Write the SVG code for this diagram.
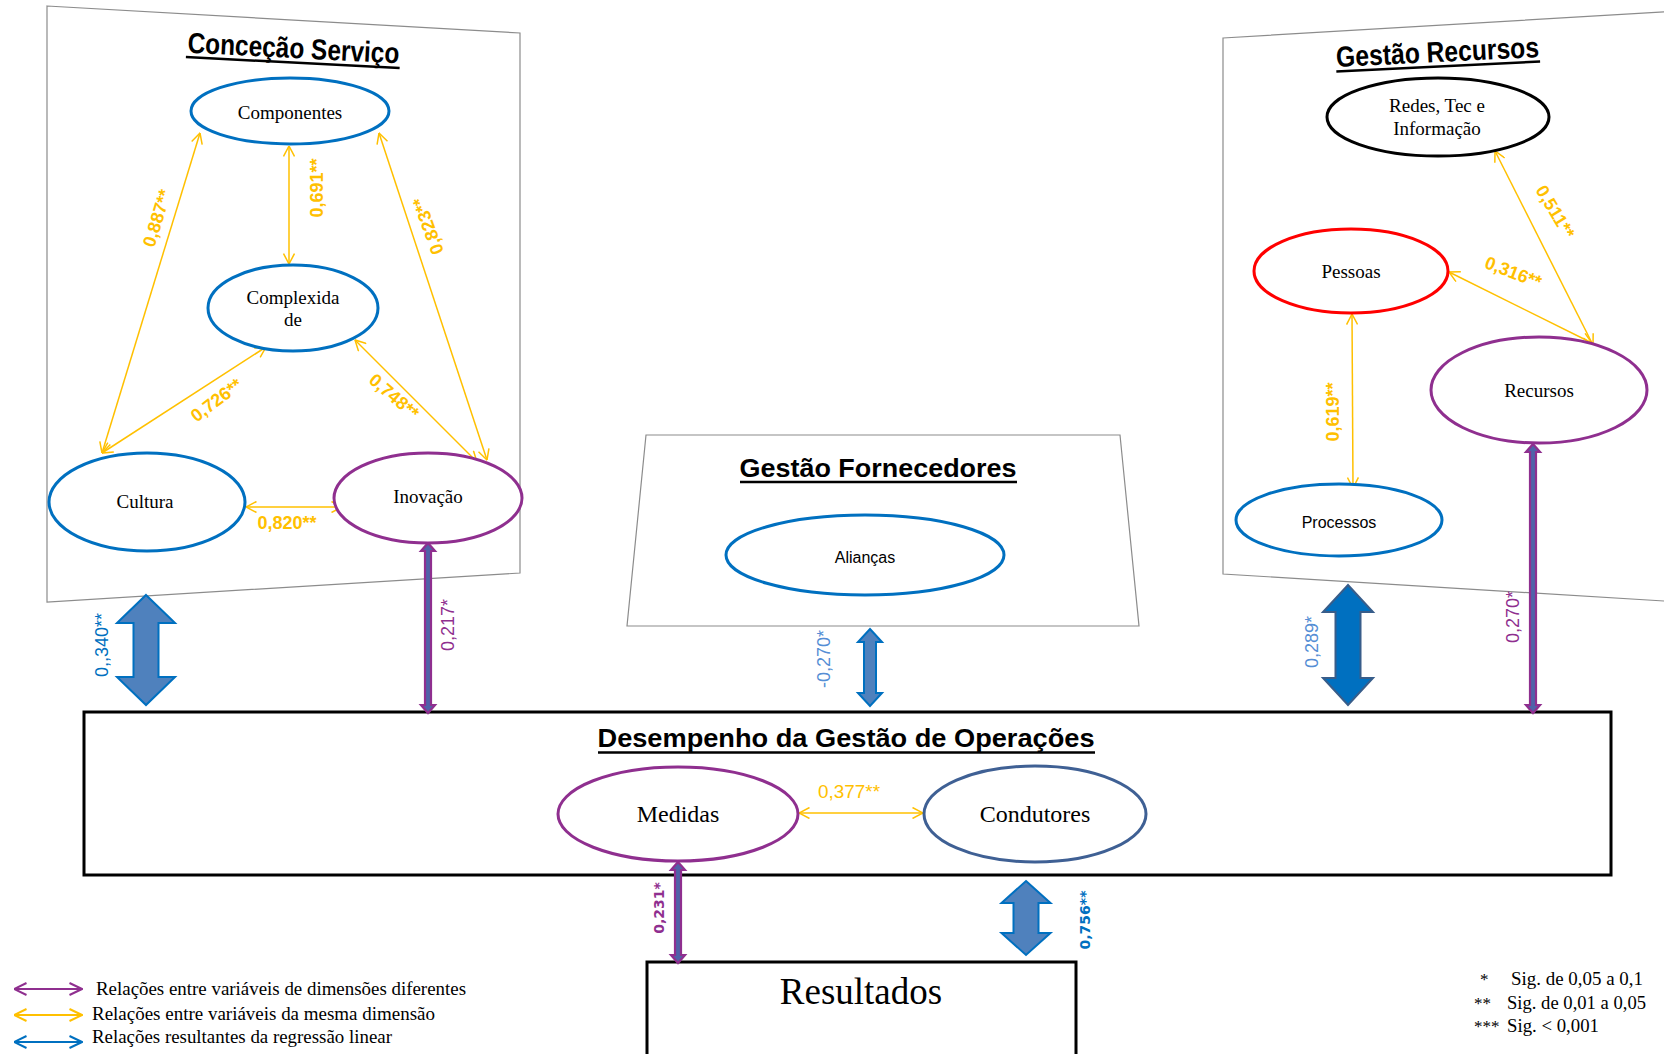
<svg xmlns="http://www.w3.org/2000/svg" width="1664" height="1054" viewBox="0 0 1664 1054">
  <style>
    .panel { fill: #ffffff; stroke: #8c8c8c; stroke-width: 1.2; }
    .ell { fill: #ffffff; stroke-width: 3; }
    .blue { stroke: #0070C0; }
    .purple { stroke: #8F2F8F; }
    .red { stroke: #FF0000; }
    .black { stroke: #000000; }
    .slate { stroke: #3F6094; }
    .serif { font-family: "Liberation Serif", "Times New Roman", serif; fill: #000; }
    .sans { font-family: "Liberation Sans", Arial, sans-serif; fill: #000; }
    .title { font-family: "Liberation Sans", Arial, sans-serif; font-weight: bold; fill: #000; }
    .uline { stroke: #000; stroke-width: 2.5; }
    .corr { stroke: #FFC000; stroke-width: 1.5; fill: none; marker-start: url(#vY); marker-end: url(#vY); }
    .lblY { font-family: "Liberation Sans", Arial, sans-serif; font-weight: bold; font-size: 18px; fill: #FFC000; }
    .lbl { font-family: "Liberation Sans", Arial, sans-serif; font-size: 18px; }
    .wide { font-family: "DejaVu Sans", Verdana, sans-serif; font-weight: bold; font-size: 14px; }
    .regP { fill: #4F62A8; stroke: #8F2F8F; stroke-width: 2.2; stroke-linejoin: miter; }
    .regB { fill: #4F81BD; stroke: #0070C0; stroke-width: 2; }
    .regD { fill: #0070C0; stroke: #385D8A; stroke-width: 2; }
    .box { fill: #ffffff; stroke: #000; stroke-width: 3; }
  </style>
  <defs>
    <marker id="vY" viewBox="0 0 12 12" refX="11.5" refY="6" markerWidth="12" markerHeight="12" markerUnits="userSpaceOnUse" orient="auto-start-reverse">
      <path d="M1,0.5 L11.5,6 L1,11.5" fill="none" stroke="#FFC000" stroke-width="1.5"/>
    </marker>
    <marker id="vP" viewBox="0 0 14 14" refX="13.5" refY="7" markerWidth="14" markerHeight="14" markerUnits="userSpaceOnUse" orient="auto-start-reverse">
      <path d="M1,1 L13.5,7 L1,13" fill="none" stroke="#8F2F8F" stroke-width="2"/>
    </marker>
    <marker id="vB" viewBox="0 0 14 14" refX="13.5" refY="7" markerWidth="14" markerHeight="14" markerUnits="userSpaceOnUse" orient="auto-start-reverse">
      <path d="M1,1 L13.5,7 L1,13" fill="none" stroke="#0070C0" stroke-width="2"/>
    </marker>
    <marker id="vL" viewBox="0 0 14 14" refX="13.5" refY="7" markerWidth="14" markerHeight="14" markerUnits="userSpaceOnUse" orient="auto-start-reverse">
      <path d="M1,1 L13.5,7 L1,13" fill="none" stroke="#FFC000" stroke-width="2"/>
    </marker>
  </defs>

  <rect x="0" y="0" width="1664" height="1054" fill="#ffffff"/>

  <!-- dimension panels -->
  <g id="panel-concecao">
    <polygon class="panel" points="47,6 520,33 520,573 47,602"/>
    <g transform="translate(293,58) rotate(2.9)">
      <text class="title" x="0" y="0" font-size="29" text-anchor="middle" textLength="212" lengthAdjust="spacingAndGlyphs">Conceção Serviço</text>
      <line class="uline" x1="-107" y1="4.5" x2="107" y2="4.5"/>
    </g>
  </g>
  <g id="panel-recursos">
    <polygon class="panel" points="1223,38 1680,11 1680,602 1223,574"/>
    <g transform="translate(1438,62) rotate(-2.8)">
      <text class="title" x="0" y="0" font-size="29" text-anchor="middle" textLength="203" lengthAdjust="spacingAndGlyphs">Gestão Recursos</text>
      <line class="uline" x1="-102" y1="4.5" x2="102" y2="4.5"/>
    </g>
  </g>
  <g id="panel-fornecedores">
    <polygon class="panel" points="646,435 1120,435 1139,626 627,626"/>
    <text class="title" x="878" y="477" font-size="26" text-anchor="middle" textLength="277" lengthAdjust="spacingAndGlyphs">Gestão Fornecedores</text>
    <line class="uline" x1="740" y1="482" x2="1017" y2="482"/>
  </g>

  <!-- operations performance box and results box -->
  <g id="desempenho">
    <rect class="box" x="84" y="712" width="1527" height="163"/>
    <text class="title" x="846" y="747" font-size="26" text-anchor="middle" textLength="497" lengthAdjust="spacingAndGlyphs">Desempenho da Gestão de Operações</text>
    <line class="uline" x1="598" y1="752.5" x2="1095" y2="752.5"/>
  </g>
  <g id="resultados">
    <rect class="box" x="647" y="962" width="429" height="100"/>
    <text class="serif" x="861" y="1004" font-size="37" text-anchor="middle">Resultados</text>
  </g>

  <!-- connectors -->
  <g id="connectors">
    <!-- correlations inside a dimension -->
    <line class="corr" x1="289" y1="146" x2="289" y2="264"/>
    <line class="corr" x1="200" y1="133" x2="102" y2="453"/>
    <line class="corr" x1="379" y1="133" x2="487" y2="460"/>
    <line class="corr" x1="266" y1="347" x2="102" y2="453"/>
    <line class="corr" x1="355" y1="340" x2="477" y2="462"/>
    <line class="corr" x1="246" y1="507" x2="342" y2="507"/>
    <line class="corr" x1="1495" y1="151" x2="1593" y2="345"/>
    <line class="corr" x1="1449" y1="272" x2="1592" y2="343"/>
    <line class="corr" x1="1352" y1="314" x2="1353" y2="488"/>
    <line class="corr" x1="799" y1="813" x2="923" y2="813"/>

    <!-- relations between dimensions -->
    <polygon class="regP" points="428,543 435,551 431,551 431,705 435,705 428,713 421,705 425,705 425,551 421,551"/>
    <polygon class="regP" points="1533,444 1540,452 1536,452 1536,705 1540,705 1533,713 1526,705 1530,705 1530,452 1526,452"/>
    <polygon class="regP" points="678,862 685,870 681,870 681,955 685,955 678,963 671,955 675,955 675,870 671,870"/>

    <!-- regression relations -->
    <polygon class="regB" points="146,595 175,623 158.5,623 158.5,677 175,677 146,705 117,677 133.5,677 133.5,623 117,623"/>
    <polygon class="regB" points="870,629 882,642 876,642 876,693 882,693 870,706 858,693 864,693 864,642 858,642"/>
    <polygon class="regD" points="1348,585 1373,612 1360.5,612 1360.5,678 1373,678 1348,705 1323,678 1335.5,678 1335.5,612 1323,612"/>
    <polygon class="regB" points="1026,881 1050.5,903 1038.5,903 1038.5,933 1050.5,933 1026,955 1001.5,933 1013.5,933 1013.5,903 1001.5,903"/>

    <!-- coefficient labels -->
    <text class="lblY" transform="translate(323,188) rotate(-90)" text-anchor="middle">0,691**</text>
    <text class="lblY" transform="translate(163,220) rotate(-73)" text-anchor="middle">0,887**</text>
    <text class="lblY" transform="translate(434,224) rotate(-110)" text-anchor="middle">0,823**</text>
    <text class="lblY" transform="translate(220,405) rotate(-37)" text-anchor="middle">0,726**</text>
    <text class="lblY" transform="translate(390,401) rotate(41)" text-anchor="middle">0,748**</text>
    <text class="lblY" x="287" y="529" text-anchor="middle">0,820**</text>
    <text class="lblY" transform="translate(1550,215) rotate(59)" text-anchor="middle">0,511**</text>
    <text class="lblY" transform="translate(1511,278) rotate(21)" text-anchor="middle">0,316**</text>
    <text class="lblY" transform="translate(1339,412) rotate(-90)" text-anchor="middle">0,619**</text>
    <text class="lbl" x="849" y="798" text-anchor="middle" fill="#FFC000" textLength="62" lengthAdjust="spacingAndGlyphs">0,377**</text>

    <text class="lbl" transform="translate(108,645) rotate(-90)" text-anchor="middle" fill="#0070C0">0,,340**</text>
    <text class="lbl" transform="translate(454,625) rotate(-90)" text-anchor="middle" fill="#8F2F8F">0,217*</text>
    <text class="lbl" transform="translate(830,659) rotate(-90)" text-anchor="middle" fill="#558ED5">-0,270*</text>
    <text class="lbl" transform="translate(1318,642) rotate(-90)" text-anchor="middle" fill="#558ED5">0,289*</text>
    <text class="lbl" transform="translate(1519,617) rotate(-90)" text-anchor="middle" fill="#8F2F8F">0,270*</text>
    <text class="wide" transform="translate(664,908) rotate(-90)" text-anchor="middle" fill="#8F2F8F">0,231*</text>
    <text class="wide" transform="translate(1090,920) rotate(-90)" text-anchor="middle" fill="#0070C0">0,756**</text>
  </g>

  <!-- variables of "Conceção Serviço" -->
  <g id="componentes">
    <ellipse class="ell blue" cx="290" cy="111" rx="99" ry="33"/>
    <text class="serif" x="290" y="119" font-size="19" text-anchor="middle">Componentes</text>
  </g>
  <g id="complexidade">
    <ellipse class="ell blue" cx="293" cy="308" rx="85" ry="43"/>
    <text class="serif" x="293" y="304" font-size="19" text-anchor="middle">Complexida</text>
    <text class="serif" x="293" y="326" font-size="19" text-anchor="middle">de</text>
  </g>
  <g id="cultura">
    <ellipse class="ell blue" cx="147" cy="502" rx="98" ry="49"/>
    <text class="serif" x="145" y="508" font-size="19" text-anchor="middle">Cultura</text>
  </g>
  <g id="inovacao">
    <ellipse class="ell purple" cx="428" cy="498" rx="94" ry="45"/>
    <text class="serif" x="428" y="503" font-size="19" text-anchor="middle">Inovação</text>
  </g>

  <!-- variables of "Gestão Recursos" -->
  <g id="redes">
    <ellipse class="ell black" cx="1438" cy="117" rx="111" ry="39"/>
    <text class="serif" x="1437" y="112" font-size="19" text-anchor="middle">Redes, Tec e</text>
    <text class="serif" x="1437" y="135" font-size="19" text-anchor="middle">Informação</text>
  </g>
  <g id="pessoas">
    <ellipse class="ell red" cx="1351" cy="271" rx="97" ry="42"/>
    <text class="serif" x="1351" y="278" font-size="19" text-anchor="middle">Pessoas</text>
  </g>
  <g id="recursos">
    <ellipse class="ell purple" cx="1539" cy="390" rx="108" ry="53"/>
    <text class="serif" x="1539" y="397" font-size="19" text-anchor="middle">Recursos</text>
  </g>
  <g id="processos">
    <ellipse class="ell blue" cx="1339" cy="520" rx="103" ry="36"/>
    <text class="sans" x="1339" y="528" font-size="16" text-anchor="middle">Processos</text>
  </g>

  <!-- variable of "Gestão Fornecedores" -->
  <g id="aliancas">
    <ellipse class="ell blue" cx="865" cy="555" rx="139" ry="40"/>
    <text class="sans" x="865" y="563" font-size="16" text-anchor="middle">Alianças</text>
  </g>

  <!-- variables of operations performance -->
  <g id="medidas">
    <ellipse class="ell purple" cx="678" cy="814" rx="120" ry="47" stroke-width="2.5"/>
    <text class="serif" x="678" y="822" font-size="24" text-anchor="middle">Medidas</text>
  </g>
  <g id="condutores">
    <ellipse class="ell slate" cx="1035" cy="814" rx="111" ry="48" stroke-width="2.5"/>
    <text class="serif" x="1035" y="822" font-size="24" text-anchor="middle">Condutores</text>
  </g>

  <!-- key of arrow types -->
  <g id="legend-arrows">
    <line x1="14" y1="989" x2="82" y2="989" stroke="#8F2F8F" stroke-width="2" marker-start="url(#vP)" marker-end="url(#vP)"/>
    <line x1="14" y1="1015" x2="82" y2="1015" stroke="#FFC000" stroke-width="2" marker-start="url(#vL)" marker-end="url(#vL)"/>
    <line x1="14" y1="1042" x2="82" y2="1042" stroke="#0070C0" stroke-width="2" marker-start="url(#vB)" marker-end="url(#vB)"/>
    <text class="serif" x="96" y="995" font-size="19" textLength="370" lengthAdjust="spacingAndGlyphs">Relações entre variáveis de dimensões diferentes</text>
    <text class="serif" x="92" y="1020" font-size="19" textLength="343" lengthAdjust="spacingAndGlyphs">Relações entre variáveis da mesma dimensão</text>
    <text class="serif" x="92" y="1043" font-size="19" textLength="300" lengthAdjust="spacingAndGlyphs">Relações resultantes da regressão linear</text>
  </g>

  <!-- key of significance levels -->
  <g id="legend-sig">
    <text class="serif" x="1480" y="985" font-size="17">*</text>
    <text class="serif" x="1511" y="985" font-size="18" textLength="132" lengthAdjust="spacingAndGlyphs">Sig. de 0,05 a 0,1</text>
    <text class="serif" x="1474" y="1009" font-size="17">**</text>
    <text class="serif" x="1507" y="1009" font-size="18" textLength="139" lengthAdjust="spacingAndGlyphs">Sig. de 0,01 a 0,05</text>
    <text class="serif" x="1474" y="1032" font-size="17">***</text>
    <text class="serif" x="1507" y="1032" font-size="18" textLength="92" lengthAdjust="spacingAndGlyphs">Sig. &lt; 0,001</text>
  </g>
</svg>
